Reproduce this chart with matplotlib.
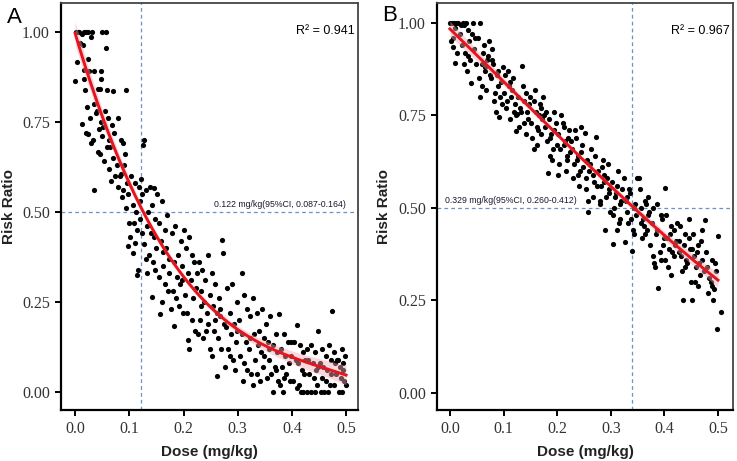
import matplotlib
matplotlib.use("Agg")
import matplotlib.pyplot as plt
import numpy as np

# ---- panel A: scatter (dose, risk ratio) ----
dose_a = [
    0.001, 0.005, 0.008, 0.012, 0.016, 0.020, 0.024, 0.009, 0.014, 0.003, 0.023, 0.017, 0.000, 0.016, 0.018, 0.020, 0.024, 0.022, 0.012,
    0.031, 0.049, 0.030, 0.026, 0.034, 0.048, 0.048, 0.042, 0.045, 0.035, 0.040, 0.028, 0.038, 0.044, 0.029, 0.042, 0.046, 0.035, 0.033, 0.047,
    0.057, 0.057, 0.058, 0.070, 0.050, 0.052, 0.055, 0.060, 0.062, 0.065, 0.068, 0.072, 0.054, 0.063, 0.070, 0.074, 0.058, 0.066,
    0.094, 0.080, 0.085, 0.088, 0.092, 0.078, 0.082, 0.090, 0.095, 0.098, 0.086, 0.080, 0.093, 0.097, 0.099, 0.084, 0.089,
    0.125, 0.128, 0.104, 0.110, 0.118, 0.122, 0.106, 0.112, 0.120, 0.124, 0.108, 0.115, 0.106, 0.114, 0.116, 0.102, 0.119, 0.123, 0.110,
    0.130, 0.138, 0.146, 0.142, 0.135, 0.148, 0.132, 0.140, 0.145, 0.127, 0.136, 0.143, 0.141, 0.133, 0.149, 0.131, 0.147,
    0.152, 0.160, 0.155, 0.165, 0.170, 0.158, 0.168, 0.173, 0.162, 0.157, 0.166, 0.154, 0.171, 0.160, 0.174, 0.163,
    0.178, 0.185, 0.195, 0.190, 0.182, 0.197, 0.188, 0.193, 0.180, 0.183, 0.192, 0.199, 0.186, 0.176, 0.198,
    0.200, 0.210, 0.205, 0.215, 0.220, 0.208, 0.213, 0.223, 0.203, 0.218, 0.208, 0.210, 0.216, 0.222, 0.206, 0.224,
    0.228, 0.235, 0.245, 0.240, 0.232, 0.248, 0.238, 0.243, 0.230, 0.246, 0.236, 0.241, 0.249, 0.233, 0.227,
    0.252, 0.258, 0.271, 0.273, 0.265, 0.255, 0.262, 0.268, 0.274, 0.257, 0.264, 0.270, 0.261, 0.253, 0.267, 0.259,
    0.280, 0.290, 0.298, 0.285, 0.293, 0.278, 0.288, 0.296, 0.283, 0.291, 0.277, 0.295, 0.286, 0.299,
    0.307, 0.312, 0.318, 0.303, 0.322, 0.308, 0.315, 0.320, 0.305, 0.311, 0.324, 0.317, 0.309, 0.323,
    0.328, 0.335, 0.345, 0.340, 0.330, 0.348, 0.338, 0.343, 0.332, 0.346, 0.336, 0.341, 0.329, 0.349,
    0.352, 0.360, 0.370, 0.355, 0.365, 0.372, 0.358, 0.368, 0.362, 0.374, 0.366, 0.354, 0.371, 0.357,
    0.377, 0.385, 0.392, 0.398, 0.380, 0.388, 0.395, 0.382, 0.390, 0.378, 0.383, 0.396, 0.386, 0.399,
    0.410, 0.404, 0.415, 0.420, 0.407, 0.412, 0.418, 0.423, 0.402, 0.409, 0.416, 0.421, 0.413, 0.424,
    0.428, 0.435, 0.442, 0.448, 0.430, 0.438, 0.445, 0.432, 0.440, 0.447, 0.427, 0.436, 0.443, 0.449,
    0.474, 0.455, 0.462, 0.468, 0.452, 0.458, 0.465, 0.472, 0.456, 0.463, 0.470, 0.453, 0.460, 0.467, 0.473,
    0.478, 0.485, 0.492, 0.498, 0.480, 0.488, 0.495, 0.482, 0.490, 0.497, 0.477, 0.486, 0.493, 0.499, 0.483, 0.494,
]
risk_a = [
    1.0, 1.0, 1.0, 0.995, 1.0, 1.0, 1.0, 0.97, 0.964, 0.915, 0.924, 0.893, 0.864, 0.868, 0.839, 0.72, 0.715, 0.79, 0.745,
    1.0, 1.0, 0.985, 0.89, 0.89, 0.89, 0.868, 0.84, 0.84, 0.80, 0.78, 0.76, 0.775, 0.73, 0.69, 0.667, 0.66, 0.56, 0.70, 0.75,
    1.0, 0.955, 0.837, 0.835, 0.71, 0.737, 0.78, 0.76, 0.70, 0.68, 0.74, 0.72, 0.64, 0.62, 0.65, 0.60, 0.68, 0.585,
    0.839, 0.76, 0.70, 0.69, 0.66, 0.63, 0.60, 0.63, 0.58, 0.55, 0.54, 0.57, 0.51, 0.405, 0.47, 0.605, 0.56,
    0.685, 0.70, 0.60, 0.58, 0.57, 0.59, 0.52, 0.50, 0.53, 0.55, 0.47, 0.45, 0.387, 0.325, 0.34, 0.43, 0.48, 0.44, 0.415,
    0.56, 0.57, 0.565, 0.52, 0.50, 0.48, 0.46, 0.44, 0.43, 0.41, 0.38, 0.36, 0.265, 0.33, 0.40, 0.37, 0.34,
    0.55, 0.53, 0.47, 0.45, 0.49, 0.42, 0.40, 0.37, 0.35, 0.217, 0.30, 0.32, 0.28, 0.25, 0.33, 0.39,
    0.44, 0.46, 0.42, 0.38, 0.36, 0.35, 0.32, 0.30, 0.28, 0.184, 0.24, 0.22, 0.26, 0.23, 0.31,
    0.45, 0.43, 0.40, 0.38, 0.36, 0.33, 0.31, 0.29, 0.27, 0.26, 0.144, 0.12, 0.20, 0.17, 0.22, 0.33,
    0.36, 0.34, 0.38, 0.31, 0.28, 0.27, 0.25, 0.22, 0.20, 0.19, 0.15, 0.17, 0.12, 0.24, 0.16,
    0.33, 0.30, 0.422, 0.387, 0.26, 0.24, 0.22, 0.21, 0.19, 0.17, 0.15, 0.12, 0.044, 0.10, 0.23, 0.20,
    0.29, 0.30, 0.25, 0.22, 0.19, 0.18, 0.16, 0.14, 0.12, 0.09, 0.07, 0.06, 0.10, 0.17,
    0.331, 0.27, 0.23, 0.20, 0.21, 0.16, 0.14, 0.12, 0.10, 0.08, 0.05, 0.06, 0.03, 0.15,
    0.26, 0.22, 0.23, 0.17, 0.16, 0.15, 0.13, 0.11, 0.09, 0.07, 0.05, 0.03, 0.02, 0.10,
    0.19, 0.21, 0.16, 0.14, 0.13, 0.11, 0.09, 0.07, 0.05, 0.03, 0.00, 0.04, 0.06, 0.12,
    0.216, 0.16, 0.14, 0.14, 0.12, 0.10, 0.08, 0.07, 0.05, 0.02, 0.00, 0.03, 0.04, 0.10,
    0.186, 0.14, 0.13, 0.11, 0.09, 0.08, 0.06, 0.05, 0.03, 0.01, 0.00, 0.00, 0.02, 0.09,
    0.12, 0.13, 0.11, 0.17, 0.09, 0.08, 0.06, 0.05, 0.04, 0.02, 0.00, 0.00, 0.00, 0.07,
    0.226, 0.12, 0.10, 0.13, 0.08, 0.07, 0.06, 0.05, 0.04, 0.03, 0.02, 0.00, 0.00, 0.00, 0.09,
    0.11, 0.09, 0.12, 0.10, 0.08, 0.07, 0.06, 0.05, 0.04, 0.03, 0.02, 0.00, 0.00, 0.02, 0.09, 0.08,
]

# ---- panel B ----
dose_b = [
    0.000, 0.004, 0.008, 0.012, 0.016, 0.020, 0.024, 0.002, 0.009, 0.006, 0.014, 0.018, 0.022, 0.010, 0.005,
    0.026, 0.030, 0.034, 0.038, 0.043, 0.047, 0.028, 0.032, 0.040, 0.045, 0.036, 0.049, 0.027, 0.042, 0.033,
    0.052, 0.057, 0.061, 0.066, 0.070, 0.074, 0.054, 0.059, 0.063, 0.068, 0.072, 0.056, 0.065, 0.071, 0.060,
    0.077, 0.081, 0.085, 0.089, 0.092, 0.096, 0.079, 0.083, 0.087, 0.094, 0.099, 0.078, 0.090, 0.086, 0.097,
    0.102, 0.106, 0.110, 0.114, 0.118, 0.123, 0.104, 0.108, 0.112, 0.116, 0.121, 0.101, 0.119, 0.113, 0.124,
    0.127, 0.131, 0.134, 0.138, 0.142, 0.146, 0.129, 0.133, 0.137, 0.141, 0.148, 0.126, 0.144, 0.139, 0.150,
    0.152, 0.156, 0.160, 0.164, 0.168, 0.172, 0.154, 0.158, 0.162, 0.166, 0.170, 0.174, 0.157, 0.163, 0.169,
    0.177, 0.181, 0.185, 0.189, 0.193, 0.197, 0.179, 0.183, 0.187, 0.191, 0.195, 0.199, 0.176, 0.194, 0.186,
    0.202, 0.206, 0.210, 0.214, 0.218, 0.222, 0.204, 0.208, 0.212, 0.216, 0.220, 0.224, 0.201, 0.213, 0.219,
    0.227, 0.231, 0.235, 0.239, 0.243, 0.247, 0.229, 0.233, 0.237, 0.241, 0.245, 0.249, 0.226, 0.238, 0.244,
    0.252, 0.256, 0.260, 0.264, 0.268, 0.272, 0.254, 0.258, 0.262, 0.266, 0.270, 0.274, 0.253, 0.258, 0.267,
    0.277, 0.281, 0.285, 0.289, 0.293, 0.297, 0.279, 0.283, 0.287, 0.291, 0.295, 0.299, 0.288, 0.296, 0.280,
    0.302, 0.305, 0.309, 0.313, 0.317, 0.321, 0.304, 0.308, 0.312, 0.316, 0.320, 0.324, 0.306, 0.318, 0.311,
    0.326, 0.330, 0.334, 0.339, 0.343, 0.347, 0.328, 0.332, 0.336, 0.341, 0.345, 0.349, 0.337, 0.344, 0.331,
    0.352, 0.356, 0.360, 0.364, 0.368, 0.372, 0.354, 0.358, 0.362, 0.366, 0.370, 0.374, 0.357, 0.369, 0.363,
    0.377, 0.381, 0.385, 0.389, 0.393, 0.397, 0.379, 0.383, 0.387, 0.391, 0.395, 0.399, 0.378, 0.386, 0.394,
    0.401, 0.405, 0.409, 0.413, 0.417, 0.421, 0.403, 0.407, 0.411, 0.415, 0.419, 0.423, 0.402, 0.412, 0.418,
    0.427, 0.431, 0.435, 0.439, 0.443, 0.447, 0.429, 0.433, 0.437, 0.441, 0.445, 0.449, 0.428, 0.438, 0.446,
    0.451, 0.455, 0.459, 0.463, 0.467, 0.471, 0.453, 0.457, 0.461, 0.465, 0.469, 0.473, 0.452, 0.462, 0.470,
    0.476, 0.480, 0.484, 0.488, 0.492, 0.496, 0.478, 0.482, 0.486, 0.490, 0.494, 0.498, 0.506, 0.500, 0.488,
]
risk_b = [
    1.0, 1.0, 1.0, 1.0, 1.0, 0.995, 1.0, 0.95, 0.893, 0.935, 0.92, 0.97, 0.94, 0.985, 0.96,
    0.995, 1.0, 0.98, 0.90, 1.0, 0.96, 0.92, 0.87, 0.837, 0.93, 0.95, 0.89, 0.89, 0.97, 0.91,
    0.96, 1.0, 0.92, 0.88, 0.90, 0.86, 0.85, 0.89, 0.94, 0.82, 0.95, 0.80, 0.87, 0.91, 0.83,
    0.85, 0.89, 0.81, 0.87, 0.747, 0.84, 0.93, 0.79, 0.86, 0.80, 0.88, 0.90, 0.83, 0.76, 0.78,
    0.86, 0.79, 0.83, 0.80, 0.85, 0.709, 0.77, 0.87, 0.74, 0.82, 0.78, 0.81, 0.76, 0.84, 0.75,
    0.80, 0.77, 0.884, 0.79, 0.81, 0.74, 0.72, 0.76, 0.83, 0.70, 0.78, 0.755, 0.76, 0.73, 0.80,
    0.73, 0.79, 0.76, 0.71, 0.78, 0.74, 0.69, 0.82, 0.67, 0.75, 0.70, 0.80, 0.66, 0.72, 0.77,
    0.72, 0.68, 0.74, 0.70, 0.66, 0.73, 0.76, 0.595, 0.69, 0.63, 0.71, 0.67, 0.75, 0.76, 0.64,
    0.70, 0.66, 0.73, 0.68, 0.64, 0.71, 0.62, 0.75, 0.67, 0.60, 0.69, 0.65, 0.59, 0.72, 0.63,
    0.66, 0.62, 0.69, 0.64, 0.60, 0.67, 0.58, 0.71, 0.63, 0.56, 0.65, 0.61, 0.68, 0.59, 0.72,
    0.703, 0.63, 0.60, 0.66, 0.57, 0.693, 0.55, 0.49, 0.62, 0.59, 0.64, 0.56, 0.58, 0.52, 0.53,
    0.60, 0.56, 0.63, 0.44, 0.58, 0.54, 0.51, 0.61, 0.57, 0.53, 0.62, 0.49, 0.59, 0.55, 0.52,
    0.57, 0.403, 0.54, 0.60, 0.51, 0.55, 0.48, 0.53, 0.56, 0.46, 0.52, 0.58, 0.50, 0.47, 0.44,
    0.407, 0.53, 0.55, 0.385, 0.50, 0.48, 0.52, 0.46, 0.54, 0.44, 0.51, 0.58, 0.47, 0.43, 0.49,
    0.58, 0.50, 0.47, 0.52, 0.44, 0.49, 0.55, 0.42, 0.45, 0.51, 0.48, 0.40, 0.46, 0.53, 0.43,
    0.46, 0.35, 0.43, 0.283, 0.48, 0.40, 0.50, 0.34, 0.44, 0.38, 0.47, 0.42, 0.37, 0.51, 0.36,
    0.553, 0.42, 0.39, 0.45, 0.37, 0.41, 0.48, 0.34, 0.43, 0.38, 0.40, 0.46, 0.36, 0.32, 0.44,
    0.41, 0.37, 0.251, 0.43, 0.35, 0.39, 0.45, 0.33, 0.40, 0.36, 0.42, 0.30, 0.38, 0.34, 0.47,
    0.25, 0.37, 0.34, 0.40, 0.32, 0.36, 0.43, 0.30, 0.38, 0.35, 0.41, 0.33, 0.39, 0.29, 0.44,
    0.467, 0.34, 0.31, 0.36, 0.28, 0.33, 0.38, 0.27, 0.30, 0.25, 0.35, 0.172, 0.22, 0.424, 0.29,
]

# fitted curves and their band half-widths, read at fixed doses
fit_dose = [0.0, 0.05, 0.1, 0.15, 0.2, 0.25, 0.3, 0.35, 0.4, 0.45, 0.5]
fit_a = [1.0, 0.77, 0.56, 0.43, 0.33, 0.245, 0.18, 0.125, 0.088, 0.064, 0.055]
fit_b = [0.985, 0.912, 0.84, 0.77, 0.70, 0.63, 0.558, 0.49, 0.425, 0.365, 0.305]
band_a = [0.035, 0.018, 0.012, 0.010, 0.010, 0.010, 0.011, 0.013, 0.016, 0.020, 0.028]
band_b = [0.022, 0.014, 0.010, 0.008, 0.008, 0.008, 0.008, 0.009, 0.011, 0.014, 0.020]

cut_a = 0.122
cut_b = 0.34
note_a = "0.122 mg/kg(95%CI, 0.087-0.164)"
note_b = "0.329 mg/kg(95%CI, 0.260-0.412)"
r2_a = "R\u00b2 = 0.941"
r2_b = "R\u00b2 = 0.967"

fig = plt.figure(figsize=(7.37, 4.61), dpi=100)
ax_a = fig.add_axes([0.0828, 0.1106, 0.403, 0.883])
ax_b = fig.add_axes([0.593, 0.1106, 0.4016, 0.883])

serif = "Liberation Serif"
sans = "Liberation Sans"
dash_col = "#6a92c6"


def draw_panel(ax, dose, risk, fit, band, cut, note, r2, xlim, ylim, note_x, note_ha, ylab_x):
    ax.scatter(dose, risk, s=14, color="black", linewidths=0, zorder=2)

    xs = np.linspace(0, 0.5, 200)
    ys = np.polyval(np.polyfit(fit_dose, fit, 3), xs)
    hw = np.polyval(np.polyfit(fit_dose, band, 3), xs)
    ax.fill_between(xs, ys - hw, ys + hw, color="#f2a7b5", alpha=0.45,
                    linewidth=0, zorder=3)
    ax.plot(xs, ys, color="#e8141c", lw=2.1, zorder=4)

    ax.axhline(0.5, color=dash_col, lw=0.9, ls=(0, (3, 2.5)), zorder=1)
    ax.axvline(cut, color=dash_col, lw=0.9, ls=(0, (3, 2.5)), zorder=1)

    ax.text(note_x, 0.508, note, ha=note_ha, va="bottom", fontsize=6.3,
            family=sans, color="#1a1a2e")
    ax.text(0.79, 0.93, r2, transform=ax.transAxes, ha="left", va="center",
            fontsize=9, family=sans)

    ax.set_xlim(*xlim)
    ax.set_ylim(*ylim)
    ax.set_xticks([0.0, 0.1, 0.2, 0.3, 0.4, 0.5])
    ax.set_xticklabels(["0.0", "0.1", "0.2", "0.3", "0.4", "0.5"])
    ax.set_yticks([0.0, 0.25, 0.5, 0.75, 1.0])
    ax.set_yticklabels(["0.00", "0.25", "0.50", "0.75", "1.00"])
    ax.tick_params(direction="out", length=4, width=1.4, color="black",
                   labelsize=11.5, labelcolor="#333333", pad=4)
    for lab in ax.get_xticklabels() + ax.get_yticklabels():
        lab.set_family(serif)
    for side in ["left", "bottom"]:
        ax.spines[side].set_linewidth(1.6)
        ax.spines[side].set_color("black")
    for side in ["top", "right"]:
        ax.spines[side].set_linewidth(1.3)
        ax.spines[side].set_color("#444444")

    ax.set_xlabel("Dose (mg/kg)", fontsize=11, fontweight="bold", family=sans,
                  labelpad=6, color="#222222")
    # ylabel anchor is the right edge of the rotated text
    ax.set_ylabel("Risk Ratio", fontsize=11, fontweight="bold", family=sans,
                  color="#222222")
    ax.yaxis.set_label_coords(ylab_x, 0.5)


draw_panel(ax_a, dose_a, risk_a, fit_a, band_a, cut_a, note_a, r2_a,
           (-0.026, 0.522), (-0.05, 1.08), 0.5, "right", -0.150)
draw_panel(ax_b, dose_b, risk_b, fit_b, band_b, cut_b, note_b, r2_b,
           (-0.024, 0.528), (-0.046, 1.054), -0.01, "left", -0.155)

fig.text(0.010, 0.985, "A", fontsize=16, family=sans, va="top", ha="left")
fig.text(0.519, 0.990, "B", fontsize=16, family=sans, va="top", ha="left")

fig.savefig("out.png", dpi=100)
